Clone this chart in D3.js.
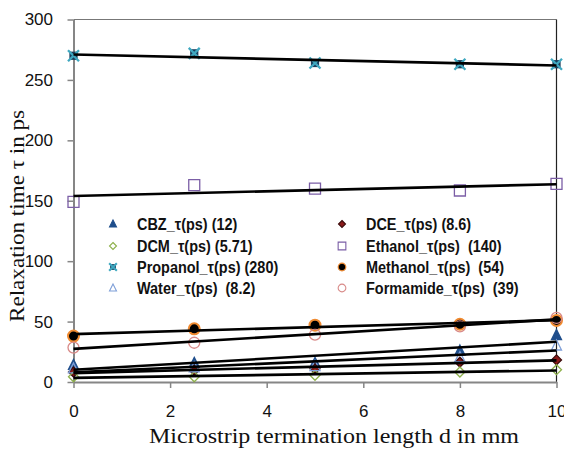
<!DOCTYPE html>
<html>
<head>
<meta charset="utf-8">
<script src="https://cdn.jsdelivr.net/npm/d3@7"></script>
<style>
  html, body { margin: 0; padding: 0; background: #fff; }
  svg { display: block; }
  .tick text { font-family: "Liberation Sans", Arial, sans-serif; font-size: 17px; fill: #111; }
  .legend-text { font-family: "Liberation Sans", Arial, sans-serif; font-weight: bold; font-size: 17px; fill: #111; white-space: pre; }
  .title { font-family: "Liberation Serif", "Times New Roman", serif; font-size: 20px; fill: #111; }
</style>
</head>
<body>
<svg id="chart" width="564" height="449"></svg>
<script>
// termination length d (mm)
const lengths = [0, 2.5, 5, 8, 10];

// relaxation time (ps) per liquid
const cbz       = [14.0, 15.6, 15.6, 25.8, 38.7];
const dce       = [8.3, 9.7, 11.0, 16.4, 18.3];
const dcm       = [4.3, 4.3, 5.6, 8.3, 10.2];
const ethanol   = [149, 163, 160, 158.5, 164];
const propanol  = [270, 272, 264, 263, 263];
const methanol  = [38.0, 44.0, 47.0, 47.8, 51.0];
const water     = [11.0, 12.0, 13.0, 20.4, 30.0];
const formamide = [28.5, 32.5, 39.2, 46.0, 53.0];

const legendLabels = [
  'CBZ_\u03c4(ps) (12)', 'DCE_\u03c4(ps) (8.6)',
  'DCM_\u03c4(ps) (5.71)', 'Ethanol_\u03c4(ps)  (140)',
  'Propanol_\u03c4(ps) (280)', 'Methanol_\u03c4(ps)  (54)',
  'Water_\u03c4(ps)  (8.2)', 'Formamide_\u03c4(ps)  (39)'
];

const xTicks = [0, 2, 4, 6, 8, 10];
const yTicks = [0, 50, 100, 150, 200, 250, 300];

const series = [
  { name: legendLabels[0], values: cbz,       marker: 'triUp',   fill: '#1f4e8c', stroke: '#1f4e8c' },
  { name: legendLabels[1], values: dce,       marker: 'diamond', fill: '#8b1a1a', stroke: '#3a0a0a' },
  { name: legendLabels[2], values: dcm,       marker: 'diamond', fill: 'none',    stroke: '#8db04a' },
  { name: legendLabels[3], values: ethanol,   marker: 'square',  fill: 'none',    stroke: '#7b5ea6' },
  { name: legendLabels[4], values: propanol,  marker: 'xbox',    fill: '#1a3d5c', stroke: '#3fa8c0' },
  { name: legendLabels[5], values: methanol,  marker: 'circle',  fill: '#000',    stroke: '#f08a30' },
  { name: legendLabels[6], values: water,     marker: 'triUp',   fill: 'none',    stroke: '#7f9fd8' },
  { name: legendLabels[7], values: formamide, marker: 'circle',  fill: 'none',    stroke: '#d88a88' }
];

const svg = d3.select('#chart');
const x = d3.scaleLinear().domain([0, 10]).range([73.5, 556.5]);
const y = d3.scaleLinear().domain([0, 300]).range([382, 19.5]);

// frame (top / right)
svg.append('line').attr('x1', x(0)).attr('x2', x(10)).attr('y1', y(300)).attr('y2', y(300))
  .attr('stroke', '#777').attr('stroke-width', 1.2);
svg.append('line').attr('x1', x(10)).attr('x2', x(10)).attr('y1', y(300)).attr('y2', y(0))
  .attr('stroke', '#222').attr('stroke-width', 1.2);

// axes
const xAxis = svg.append('g').attr('transform', `translate(0,${y(0)})`)
  .call(d3.axisBottom(x).tickValues(xTicks).tickFormat(d3.format('d')).tickSize(6).tickSizeOuter(0).tickPadding(29));
const yAxis = svg.append('g').attr('transform', `translate(${x(0)},0)`)
  .call(d3.axisLeft(y).tickValues(yTicks).tickSize(6).tickSizeOuter(0).tickPadding(14.5));
[xAxis, yAxis].forEach(a => {
  a.select('.domain').attr('stroke', '#868686').attr('stroke-width', 2);
  a.selectAll('.tick line').attr('stroke', '#868686').attr('stroke-width', 1.5);
});
xAxis.selectAll('.tick text').attr('dy', 0);

// linear trendlines (least squares, as in the spreadsheet)
function fit(vals) {
  const mx = d3.mean(lengths), my = d3.mean(vals);
  let sxy = 0, sxx = 0;
  lengths.forEach((t, i) => { sxy += (t - mx) * (vals[i] - my); sxx += (t - mx) * (t - mx); });
  const b = sxy / sxx;
  return [my - b * mx, b];
}

// marker paths centred on 0,0
function markerPath(type, s) {
  const h = s / 2;
  if (type === 'triUp') return `M0,${-h * 1.15}L${h},${h * 0.85}L${-h},${h * 0.85}Z`;
  if (type === 'diamond') return `M0,${-h}L${h},0L0,${h}L${-h},0Z`;
  if (type === 'square' || type === 'xbox') return `M${-h},${-h}H${h}V${h}H${-h}Z`;
  return null;
}

function drawMarker(g, s, type, size, lw) {
  if (type === 'circle') {
    g.append('circle').attr('r', size / 2)
      .attr('fill', s.fill).attr('stroke', s.stroke).attr('stroke-width', lw);
  } else if (type === 'xbox') {
    const h = size / 2;
    g.append('path').attr('d', markerPath('square', size * 0.75)).attr('fill', s.fill);
    g.append('path').attr('d', `M${-h},${-h}L${h},${h}M${h},${-h}L${-h},${h}`)
      .attr('stroke', s.stroke).attr('stroke-width', lw + 1).attr('fill', 'none');
  } else {
    g.append('path').attr('d', markerPath(type, size))
      .attr('fill', s.fill).attr('stroke', s.stroke).attr('stroke-width', lw);
  }
}

const markSizes = { triUp: 10, diamond: 10, square: 11, xbox: 11, circle: 11 };

// markers
series.forEach(s => {
  const g = svg.append('g');
  s.values.forEach((v, i) => {
    const m = g.append('g').attr('transform', `translate(${x(lengths[i])},${y(v)})`);
    drawMarker(m, s, s.marker, markSizes[s.marker], s.marker === 'circle' && s.fill !== 'none' ? 2 : 1.3);
  });
});

// trendlines on top
series.forEach(s => {
  const [a, b] = fit(s.values);
  svg.append('line')
    .attr('x1', x(0)).attr('y1', y(a))
    .attr('x2', x(10)).attr('y2', y(a + b * 10))
    .attr('stroke', '#000').attr('stroke-width', 2.6);
});

// legend (narrow bold face, like the original)
const legCols = [113, 342];
const legText = [137, 366];
const legRows = [224, 246, 267, 288];
series.forEach((s, i) => {
  const col = i % 2, row = Math.floor(i / 2);
  const m = svg.append('g').attr('transform', `translate(${legCols[col]},${legRows[row]})`);
  drawMarker(m, s, s.marker, markSizes[s.marker] * 0.7, 1.1);
  svg.append('text').attr('class', 'legend-text')
    .attr('transform', `translate(${legText[col]},${legRows[row] + 6}) scale(0.85,1)`)
    .text(s.name);
});

// axis titles (the original figure is stretched horizontally)
svg.append('text').attr('class', 'title')
  .attr('x', 334).attr('y', 443).attr('text-anchor', 'middle')
  .attr('textLength', 370).attr('lengthAdjust', 'spacingAndGlyphs')
  .text('Microstrip termination length d in mm');
svg.append('text').attr('class', 'title')
  .style('font-size', '22px')
  .attr('transform', 'translate(24,216) rotate(-90)').attr('text-anchor', 'middle')
  .attr('textLength', 212).attr('lengthAdjust', 'spacingAndGlyphs')
  .text('Relaxation time \u03c4 in ps');
</script>
</body>
</html>
